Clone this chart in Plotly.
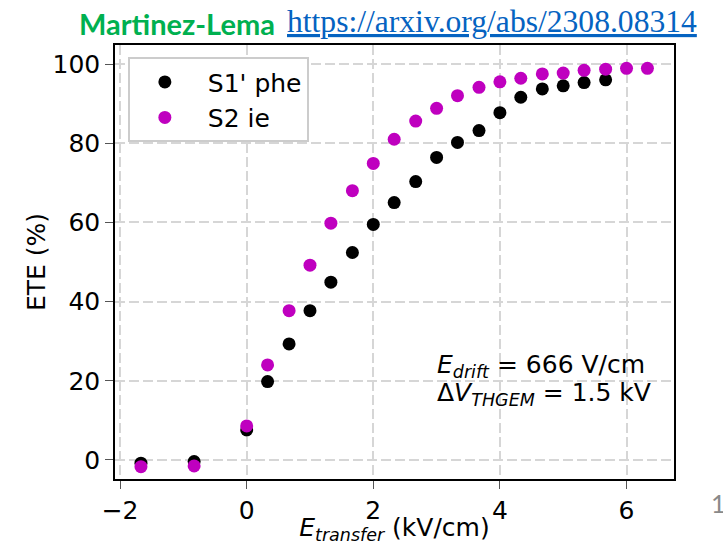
import plotly.graph_objects as go

# Data
e_transfer_s1 = [-1.67, -0.83, 0.0, 0.33, 0.67, 1.0, 1.33, 1.67, 2.0, 2.33, 2.67,
                 3.0, 3.33, 3.67, 4.0, 4.33, 4.67, 5.0, 5.33, 5.67]
ete_s1 = [-0.8, -0.4, 7.6, 19.8, 29.3, 37.7, 44.9, 52.4, 59.5, 65.0, 70.3,
          76.4, 80.2, 83.2, 87.7, 91.6, 93.7, 94.5, 95.3, 96.0]
e_transfer_s2 = [-1.67, -0.83, 0.0, 0.33, 0.67, 1.0, 1.33, 1.67, 2.0, 2.33, 2.67,
                 3.0, 3.33, 3.67, 4.0, 4.33, 4.67, 5.0, 5.33, 5.67, 6.0, 6.33]
ete_s2 = [-1.7, -1.5, 8.6, 24.0, 37.7, 49.2, 59.8, 68.0, 74.9, 81.0, 85.6,
          88.8, 92.0, 94.1, 95.5, 96.4, 97.5, 97.7, 98.4, 98.7, 98.9, 98.9]
x_ticks = [-2, 0, 2, 4, 6]
y_ticks = [0, 20, 40, 60, 80, 100]

FONT = "DejaVu Sans"
FS = 25

fig = go.Figure()
fig.add_trace(go.Scatter(x=e_transfer_s1, y=ete_s1, mode="markers", name="\u00a0S1' phe",
                         marker=dict(color="black", size=13)))
fig.add_trace(go.Scatter(x=e_transfer_s2, y=ete_s2, mode="markers", name="\u00a0S2 ie",
                         marker=dict(color="#bf00bf", size=13)))

grid = dict(showgrid=True, gridcolor="#d6d6d6", gridwidth=2, griddash="10px,4px")
axis_common = dict(showline=True, linecolor="black", linewidth=1.5, mirror=True,
                   ticks="outside", ticklen=8, tickwidth=1.2, tickcolor="#555",
                   tickfont=dict(family=FONT, size=FS, color="black"),
                   zeroline=False, automargin=False, **grid)

fig.update_layout(
    width=723, height=545,
    margin=dict(l=115, r=49, t=45, b=66),
    paper_bgcolor="white", plot_bgcolor="white",
    showlegend=True,
    legend=dict(x=0.023, y=0.972, xanchor="left", yanchor="top",
                bgcolor="white", bordercolor="#cccccc", borderwidth=2,
                font=dict(family=FONT, size=FS, color="black"),
                itemwidth=60, tracegroupgap=0),
    xaxis=dict(range=[-2.08, 6.75], tickvals=x_ticks,
               ticktext=["\u22122", "0", "2", "4", "6"],
               title=dict(text="<i>E</i><sub><i>transfer</i></sub> (kV/cm)",
                          font=dict(family=FONT, size=FS, color="black"), standoff=2),
               **axis_common),
    yaxis=dict(range=[-4.8, 104.8], tickvals=y_ticks,
               title=dict(text="ETE (%)", font=dict(family=FONT, size=FS, color="black"),
                          standoff=0),
               **axis_common),
)

fig.add_annotation(xref="paper", yref="paper", x=0.573, y=0.2615, xanchor="left",
                   yanchor="middle", showarrow=False,
                   text="<i>E</i><sub><i>drift</i></sub> = 666 V/cm",
                   font=dict(family=FONT, size=FS, color="black"))
fig.add_annotation(xref="paper", yref="paper", x=0.573, y=0.197, xanchor="left",
                   yanchor="middle", showarrow=False,
                   text="\u0394<i>V</i><sub><i>THGEM</i></sub> = 1.5 kV",
                   font=dict(family=FONT, size=FS, color="black"))

# Header
fig.add_annotation(xref="paper", yref="paper", x=(77 - 115) / 559, y=(479 - 23) / 434,
                   xanchor="left", yanchor="middle", showarrow=False,
                   text="<b>Martinez-Lema</b>",
                   font=dict(family="Lato", size=29, color="#00b050"))
fig.add_annotation(xref="paper", yref="paper", x=(285 - 115) / 559, y=(479 - 22) / 434,
                   xanchor="left", yanchor="middle", showarrow=False,
                   text="<u>https://arxiv.org/abs/2308.08314</u>",
                   font=dict(family="Liberation Serif", size=31.6, color="#0563c1"))
fig.add_annotation(xref="paper", yref="paper", x=(709 - 115) / 559, y=(479 - 503) / 434,
                   xanchor="left", yanchor="middle", showarrow=False,
                   text="1", font=dict(family="Lato", size=25, color="#898989"))

fig.write_html("out.html")
